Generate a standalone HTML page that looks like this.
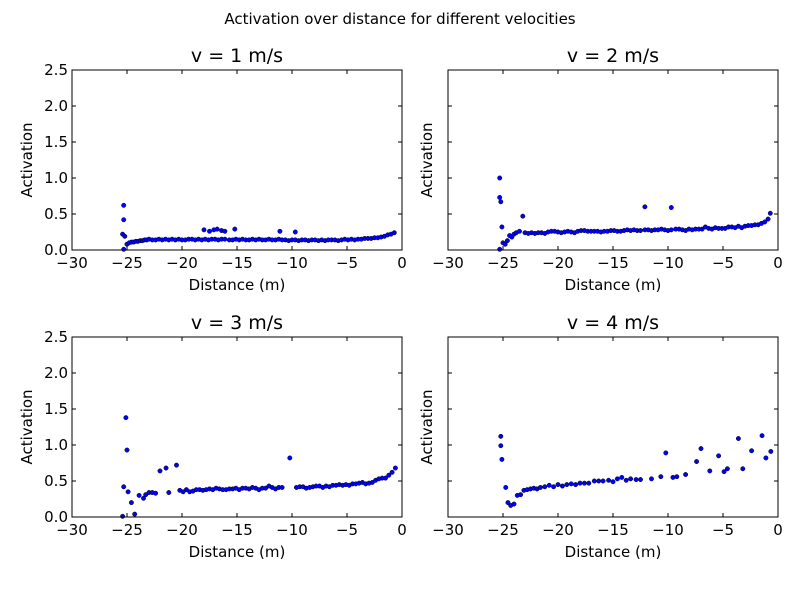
<!DOCTYPE html>
<html><head><meta charset="utf-8">
<style>
html,body{margin:0;padding:0;background:#fff;}
svg text{font-family:"DejaVu Sans","Liberation Sans",sans-serif;fill:#000;}
</style></head>
<body>
<svg id="chart" width="800" height="600" xmlns="http://www.w3.org/2000/svg">
<rect width="800" height="600" fill="#fff"/>
<text x="400" y="24" font-size="15" text-anchor="middle">Activation over distance for different velocities</text>
</svg>
<script>
const xTicks = [-30, -25, -20, -15, -10, -5, 0];
const yTicks = [0.0, 0.5, 1.0, 1.5, 2.0, 2.5];
const yTickLabels = ["0.0", "0.5", "1.0", "1.5", "2.0", "2.5"];
const panelTitles = ["v = 1 m/s", "v = 2 m/s", "v = 3 m/s", "v = 4 m/s"];

const x1 = [-25.3,-25.3,-25.4,-25.2,-25.3,-25.0,-24.8,-24.6,-24.4,-24.2,-24.0,-23.8,-23.6,-23.4,-23.2,-23.0,-22.7,-22.4,-22.1,-21.8,-21.5,-21.2,-20.9,-20.6,-20.3,-20.0,-19.7,-19.4,-19.1,-18.8,-18.5,-18.2,-17.9,-17.6,-17.3,-17.0,-16.7,-16.4,-16.1,-15.7,-15.4,-15.1,-14.8,-14.5,-14.2,-13.9,-13.6,-13.3,-13.0,-12.7,-12.4,-12.1,-11.8,-11.5,-11.2,-10.9,-10.6,-10.3,-10.0,-9.7,-9.4,-9.1,-8.8,-8.5,-8.2,-7.9,-7.6,-7.3,-7.0,-6.7,-6.4,-6.1,-5.8,-5.5,-5.2,-4.9,-4.6,-4.3,-4.0,-3.7,-3.4,-3.1,-2.8,-2.5,-2.2,-1.9,-1.6,-1.3,-1.0,-0.7,-18.0,-17.5,-17.1,-16.8,-16.4,-16.1,-15.2,-11.1,-9.7];
const y1 = [0.62,0.42,0.22,0.19,0.01,0.08,0.10,0.11,0.11,0.12,0.12,0.13,0.13,0.14,0.14,0.15,0.14,0.14,0.15,0.14,0.15,0.14,0.15,0.14,0.15,0.14,0.14,0.15,0.15,0.14,0.15,0.14,0.15,0.14,0.15,0.15,0.14,0.15,0.15,0.14,0.14,0.15,0.14,0.15,0.14,0.14,0.15,0.14,0.15,0.14,0.14,0.15,0.14,0.14,0.15,0.14,0.14,0.13,0.14,0.14,0.13,0.14,0.14,0.13,0.14,0.14,0.13,0.14,0.13,0.14,0.14,0.14,0.13,0.14,0.15,0.14,0.15,0.14,0.15,0.15,0.16,0.16,0.16,0.17,0.17,0.18,0.19,0.21,0.22,0.24,0.28,0.26,0.28,0.29,0.27,0.26,0.29,0.26,0.25];

const x2 = [-25.3,-25.3,-25.2,-25.1,-25.3,-25.0,-24.8,-24.6,-24.4,-24.2,-24.0,-23.8,-23.5,-23.2,-23.0,-22.7,-22.4,-22.1,-21.8,-21.5,-21.2,-20.9,-20.6,-20.3,-20.0,-19.7,-19.4,-19.1,-18.8,-18.5,-18.2,-17.9,-17.6,-17.3,-17.0,-16.7,-16.4,-16.1,-15.8,-15.5,-15.2,-14.9,-14.6,-14.3,-14.0,-13.7,-13.4,-13.1,-12.8,-12.5,-12.1,-11.8,-11.5,-11.2,-10.9,-10.6,-10.3,-10.0,-9.7,-9.3,-9.0,-8.7,-8.4,-8.1,-7.8,-7.5,-7.2,-6.9,-6.6,-6.3,-6.0,-5.7,-5.4,-5.1,-4.8,-4.5,-4.2,-3.9,-3.6,-3.3,-3.0,-2.7,-2.4,-2.1,-1.8,-1.5,-1.2,-0.9,-0.7,-12.1,-9.7];
const y2 = [1.00,0.73,0.67,0.32,0.01,0.10,0.08,0.13,0.20,0.18,0.22,0.24,0.26,0.47,0.24,0.23,0.24,0.23,0.24,0.24,0.23,0.25,0.26,0.26,0.25,0.24,0.25,0.26,0.25,0.24,0.26,0.27,0.27,0.26,0.26,0.26,0.26,0.25,0.26,0.26,0.27,0.27,0.26,0.26,0.27,0.28,0.27,0.28,0.27,0.27,0.28,0.28,0.27,0.28,0.28,0.29,0.28,0.27,0.28,0.29,0.29,0.28,0.27,0.29,0.28,0.29,0.29,0.29,0.32,0.30,0.29,0.31,0.30,0.30,0.30,0.32,0.32,0.31,0.33,0.31,0.33,0.34,0.34,0.35,0.35,0.37,0.39,0.43,0.51,0.60,0.59];

const x3 = [-25.1,-25.0,-25.3,-24.9,-24.6,-25.4,-24.3,-23.9,-23.5,-23.3,-23.0,-22.7,-22.4,-22.0,-21.45,-21.2,-20.5,-20.2,-19.9,-19.6,-19.3,-19.0,-18.7,-18.4,-18.1,-17.8,-17.5,-17.2,-16.9,-16.6,-16.3,-16.0,-15.7,-15.4,-15.1,-14.8,-14.5,-14.2,-13.9,-13.6,-13.3,-13.0,-12.7,-12.4,-12.1,-11.8,-11.5,-11.2,-10.9,-10.2,-9.6,-9.3,-9.0,-8.7,-8.4,-8.1,-7.8,-7.5,-7.2,-6.9,-6.6,-6.3,-6.0,-5.7,-5.4,-5.1,-4.8,-4.5,-4.2,-3.9,-3.6,-3.3,-3.0,-2.7,-2.4,-2.1,-1.8,-1.5,-1.2,-0.9,-0.6];
const y3 = [1.38,0.93,0.42,0.35,0.20,0.01,0.04,0.30,0.26,0.31,0.34,0.34,0.33,0.64,0.68,0.34,0.72,0.37,0.35,0.38,0.35,0.36,0.38,0.38,0.37,0.38,0.39,0.38,0.40,0.39,0.38,0.38,0.39,0.39,0.40,0.38,0.40,0.40,0.39,0.41,0.40,0.38,0.40,0.40,0.43,0.41,0.39,0.41,0.41,0.82,0.41,0.42,0.42,0.40,0.41,0.42,0.43,0.43,0.41,0.43,0.42,0.44,0.44,0.45,0.44,0.45,0.44,0.46,0.46,0.47,0.48,0.46,0.47,0.48,0.51,0.53,0.54,0.54,0.58,0.62,0.68,0.74];

const x4 = [-25.2,-25.2,-25.1,-24.75,-24.55,-24.3,-24.0,-23.7,-23.4,-23.1,-22.8,-22.5,-22.2,-21.9,-21.6,-21.2,-20.8,-20.4,-20.0,-19.6,-19.2,-18.8,-18.4,-18.0,-17.6,-17.2,-16.7,-16.3,-15.9,-15.4,-15.0,-14.6,-14.2,-13.8,-13.4,-12.9,-12.5,-11.5,-10.65,-10.2,-9.55,-9.2,-8.4,-7.4,-7.0,-6.2,-5.4,-4.9,-4.6,-3.6,-3.2,-2.4,-1.45,-1.1,-0.65];
const y4 = [1.12,0.99,0.80,0.41,0.20,0.16,0.18,0.30,0.31,0.37,0.38,0.39,0.40,0.39,0.41,0.42,0.44,0.42,0.45,0.43,0.45,0.46,0.45,0.47,0.47,0.47,0.50,0.50,0.50,0.51,0.49,0.53,0.55,0.51,0.53,0.52,0.52,0.53,0.56,0.89,0.55,0.56,0.59,0.77,0.95,0.64,0.85,0.63,0.67,1.09,0.67,0.92,1.13,0.82,0.91];

const seriesX = [x1, x2, x3, x4];
const seriesY = [y1, y2, y3, y4];

const NS = "http://www.w3.org/2000/svg";
const svg = document.getElementById("chart");
const panels = [
  {l:72, t:70, w:330, h:180, yLabels:true},
  {l:448, t:70, w:330, h:180, yLabels:false},
  {l:72, t:337, w:330, h:180, yLabels:true},
  {l:448, t:337, w:330, h:180, yLabels:false}
];
function mk(tag, attrs, parent){
  const e = document.createElementNS(NS, tag);
  for (const k in attrs) e.setAttribute(k, attrs[k]);
  (parent||svg).appendChild(e);
  return e;
}
panels.forEach((p, i) => {
  const g = mk("g", {});
  
  
  const sx = v => p.l + (v + 30) / 30 * p.w;
  const sy = v => p.t + p.h - v / 2.5 * p.h;
  // title
  const tt = mk("text", {x: p.l + p.w/2, y: p.t - 8, "font-size": 19, "text-anchor": "middle"}, g);
  tt.textContent = panelTitles[i];
  
  
  // points
  const xs = seriesX[i], ys = seriesY[i];
  for (let j = 0; j < xs.length; j++) {
    const c = mk("circle", {cx: sx(xs[j]), cy: sy(ys[j]), r: 2.2, fill: "#0000ff", stroke: "#000", "stroke-width": 0.5}, g);
    
    
  }
  // frame
  const fr = mk("rect", {x: p.l, y: p.t, width: p.w, height: p.h, fill: "none", stroke: "#000", "stroke-width": 1}, g);
  
  
  // x ticks
  xTicks.forEach(v => {
    const x = sx(v);
    mk("line", {x1: x, y1: p.t + p.h, x2: x, y2: p.t + p.h - 4, stroke: "#000"}, g);
    mk("line", {x1: x, y1: p.t, x2: x, y2: p.t + 4, stroke: "#000"}, g);
    const t = mk("text", {x: x, y: p.t + p.h + 18, "font-size": 15, "text-anchor": "middle"}, g);
    t.textContent = v < 0 ? "\u2212" + Math.abs(v) : String(v);
    
    
  });
  yTicks.forEach((v, k) => {
    const y = sy(v);
    mk("line", {x1: p.l, y1: y, x2: p.l + 4, y2: y, stroke: "#000"}, g);
    mk("line", {x1: p.l + p.w, y1: y, x2: p.l + p.w - 4, y2: y, stroke: "#000"}, g);
    if (p.yLabels) {
      const t = mk("text", {x: p.l - 4, y: y + 5, "font-size": 15, "text-anchor": "end"}, g);
      t.textContent = yTickLabels[k];
      
      
    }
  });
  const xl = mk("text", {x: p.l + p.w/2, y: p.t + p.h + 40, "font-size": 15, "text-anchor": "middle"}, g);
  xl.textContent = "Distance (m)";
  
  
  const yx = p.yLabels ? p.l - 40 : p.l - 16;
  const yc = p.t + p.h/2;
  const yl = mk("text", {x: yx, y: yc, "font-size": 15, "text-anchor": "middle", transform: `rotate(-90 ${yx} ${yc})`}, g);
  yl.textContent = "Activation";
  
  
});
</script>
</body></html>
